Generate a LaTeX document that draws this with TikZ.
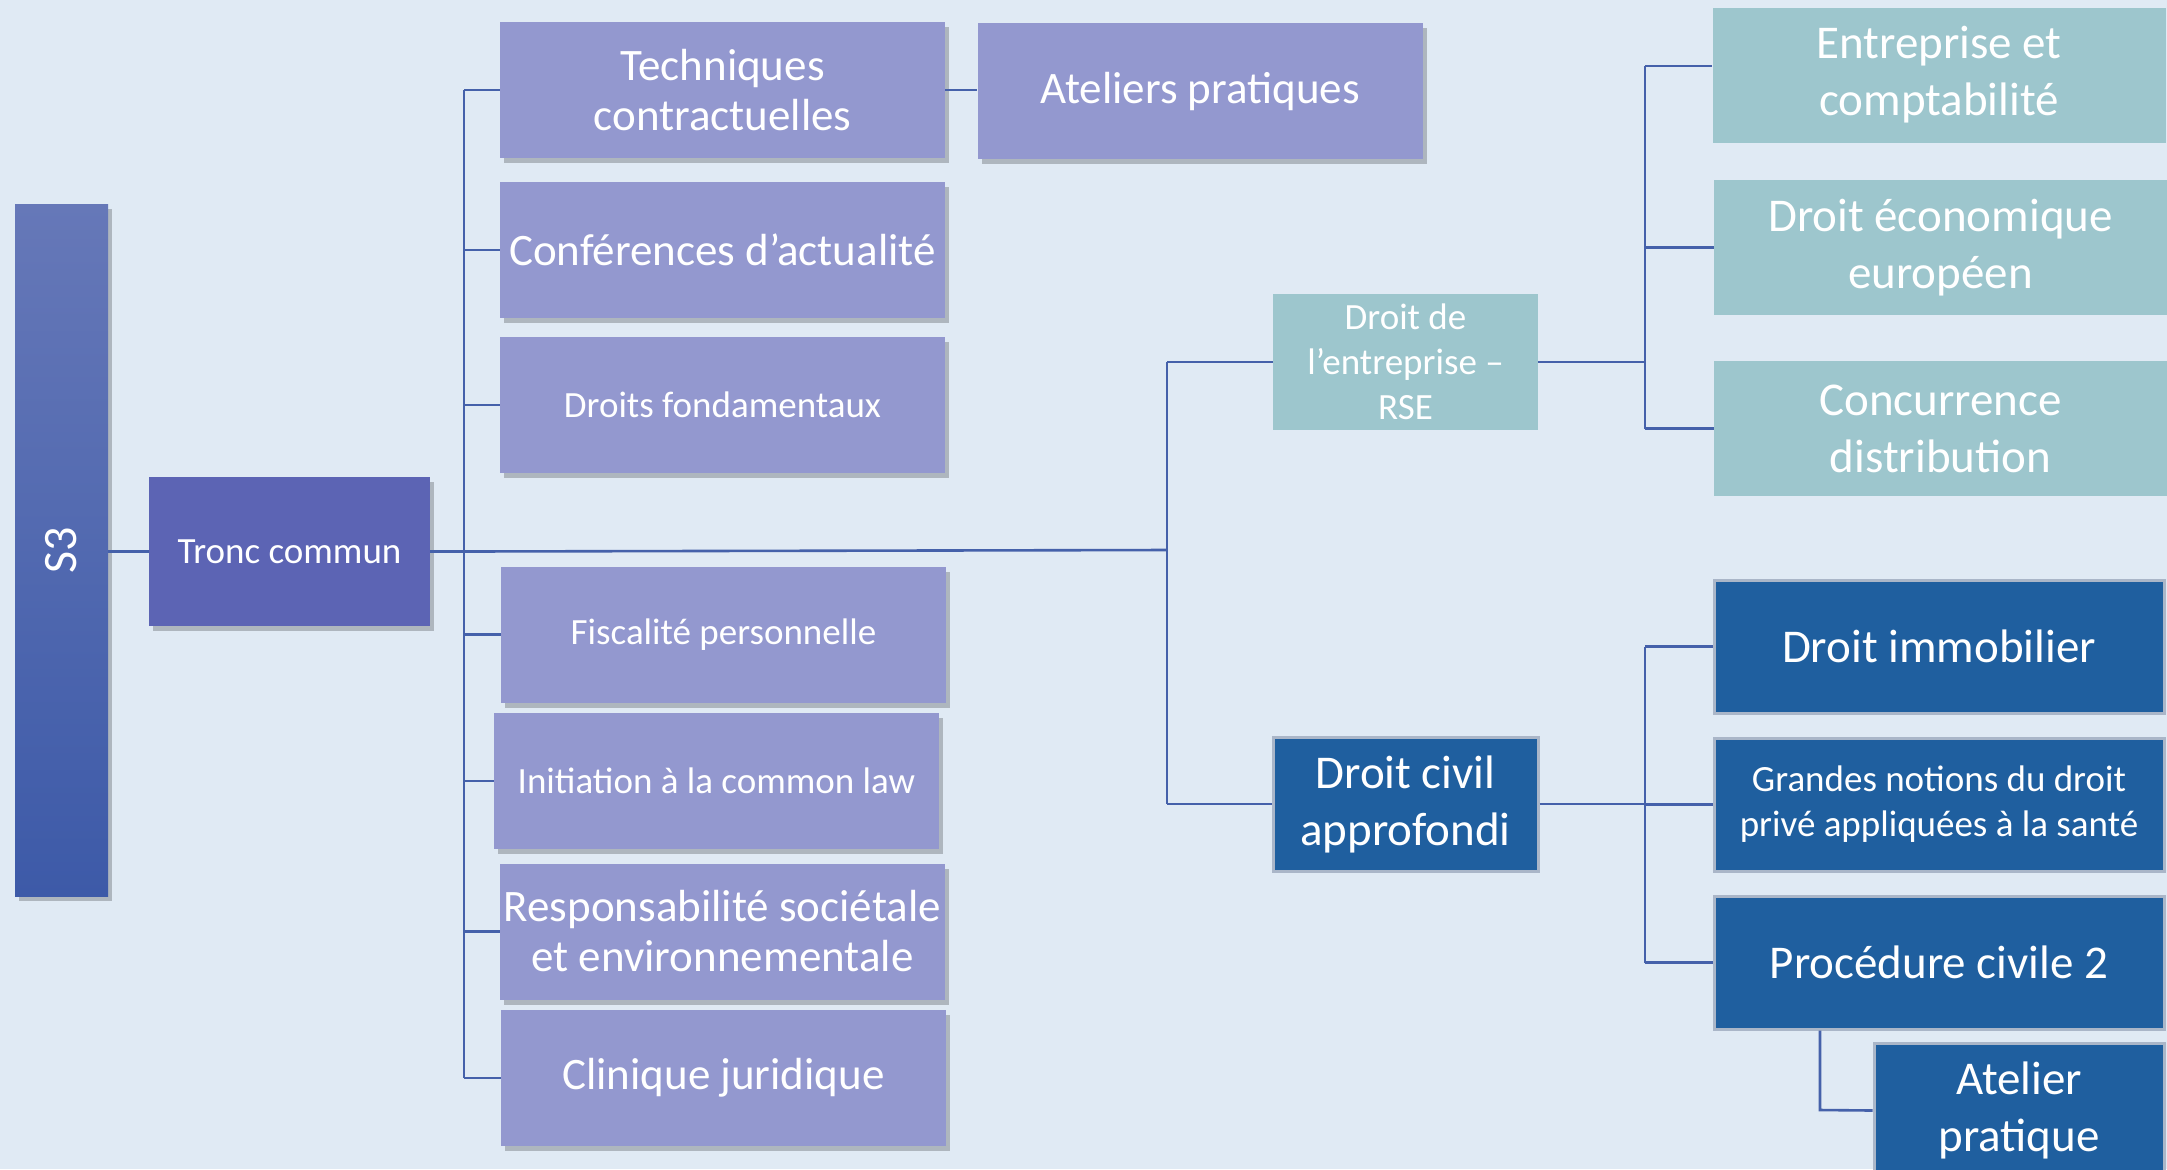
\documentclass[tikz,border=0pt]{standalone}
\usepackage{fontspec}
\setmainfont{Carlito}
\usetikzlibrary{shadows}
\definecolor{bg}{HTML}{E0EAF4}
\definecolor{purp}{HTML}{9398CF}
\definecolor{tronc}{HTML}{5C64B4}
\definecolor{teal}{HTML}{9DC6CD}
\definecolor{dblue}{HTML}{1F5F9F}
\definecolor{bord}{HTML}{AAB6C8}
\definecolor{conn}{HTML}{4561AA}
\definecolor{s3top}{HTML}{6678B8}
\definecolor{s3bot}{HTML}{3D5AA8}
\begin{document}
\begin{tikzpicture}[x=0.5pt,y=-0.5pt,
  shad/.style={drop shadow={shadow xshift=2pt,shadow yshift=-2.5pt,fill=black,opacity=0.22}},
  base/.style={rectangle,inner sep=0pt,align=center,text=white},
  pbox/.style={base,fill=purp,minimum width=222.5pt,minimum height=68pt,shad,font=\fontsize{22.5}{25}\selectfont},
  psmall/.style={pbox,font=\fontsize{18.5}{22.5}\selectfont},
  tbox/.style={base,fill=teal,minimum width=226.5pt,minimum height=67.5pt,font=\fontsize{23.5}{28.5}\selectfont},
  dbox/.style={base,fill=dblue,draw=bord,line width=1.5pt,minimum width=225pt,minimum height=66.5pt,font=\fontsize{23.5}{28.5}\selectfont},
  link/.style={draw=conn,line width=1.3pt}]
\useasboundingbox (0,0) rectangle (2167,1169);
\clip (0,0) rectangle (2167,1169);
\fill[bg] (0,0) rectangle (2167,1169);

% left column
\node[base,top color=s3top,bottom color=s3bot,minimum width=46.5pt,minimum height=346pt,shad] (s3) at (61.5,550) {};
\node[text=white,rotate=90,font=\fontsize{24}{28}\selectfont] (s3t) at (s3) {S3};
\node[base,fill=tronc,minimum width=140.5pt,minimum height=74.5pt,shad,font=\fontsize{18.5}{22.5}\selectfont] (tronc) at (289.5,551.5) {Tronc commun};

% purple column
\node[pbox] (tech) at (722.5,90) {Techniques\\contractuelles};
\node[pbox] (atel) at (1200,91) {Ateliers pratiques};
\node[pbox] (conf) at (722.5,250) {Conférences d’actualité};
\node[psmall] (fond) at (722.5,405) {Droits fondamentaux};
\node[psmall] (fisc) at (723.5,634.5) {Fiscalité personnelle};
\node[psmall] (init) at (716.5,781) {Initiation à la common law};
\node[pbox] (resp) at (722.5,931.5) {Responsabilité sociétale\\et environnementale};
\node[pbox] (clin) at (723.5,1078) {Clinique juridique};

% middle
\node[base,fill=teal,minimum width=132.5pt,minimum height=68pt,font=\fontsize{18.5}{22.5}\selectfont] (rse) at (1405.5,362) {Droit de\\l’entreprise –\\RSE};
\node[dbox,minimum width=132.5pt,minimum height=67pt] (civ) at (1405.5,804) {Droit civil\\approfondi};

% right teal
\node[tbox] (ent) at (1939,75) {Entreprise et\\comptabilité};
\node[tbox] (eco) at (1940.5,247.5) {Droit économique\\européen};
\node[tbox] (conc) at (1940.5,428.5) {Concurrence\\distribution};

% right dark
\node[dbox] (immo) at (1939,646.5) {Droit immobilier};
\node[dbox,font=\fontsize{18.5}{22.5}\selectfont] (gran) at (1939,804.5) {Grandes notions du droit\\privé appliquées à la santé};
\node[dbox] (proc) at (1939,962.5) {Procédure civile 2};
\node[dbox,minimum width=145pt,minimum height=67.5pt] (atp) at (2019,1110.5) {Atelier\\pratique};

% connectors
\coordinate (ja) at (464,550);
\coordinate (jb) at (1167,550);
\coordinate (jc) at (1645,550);
\coordinate (jd) at (1820,1110);
\draw[link] (s3.east |- tronc) -- (tronc.west);
\draw[link] (tronc.east) -- (ja |- tronc.east);
\draw[link] (ja |- tech.west) -- (ja |- clin.west);
\foreach \n in {tech,conf,fond,fisc,init,resp,clin}
  \draw[link] (ja |- \n.west) -- (\n.west);
\draw[link] (tech.east) -- (atel.west |- tech.east);
\draw[link] (ja |- tronc.east) -- (jb);
\draw[link] (jb |- rse.west) -- (jb |- civ.west);
\draw[link] (jb |- rse.west) -- (rse.west);
\draw[link] (jb |- civ.west) -- (civ.west);
\draw[link] (rse.east) -- (jc |- rse.east);
\draw[link] ([yshift=4.5pt]jc |- ent.west) -- (jc |- conc.west);
\draw[link] ([yshift=4.5pt]jc |- ent.west) -- ([yshift=4.5pt]ent.west);
\foreach \n in {eco,conc}
  \draw[link] (jc |- \n.west) -- (\n.west);
\draw[link] (civ.east) -- (jc |- civ.east);
\draw[link] (jc |- immo.west) -- (jc |- proc.west);
\foreach \n in {immo,gran,proc}
  \draw[link] (jc |- \n.west) -- (\n.west);
\draw[link] (proc.south -| jd) -- (jd) -- (atp.west);
\end{tikzpicture}
\end{document}
